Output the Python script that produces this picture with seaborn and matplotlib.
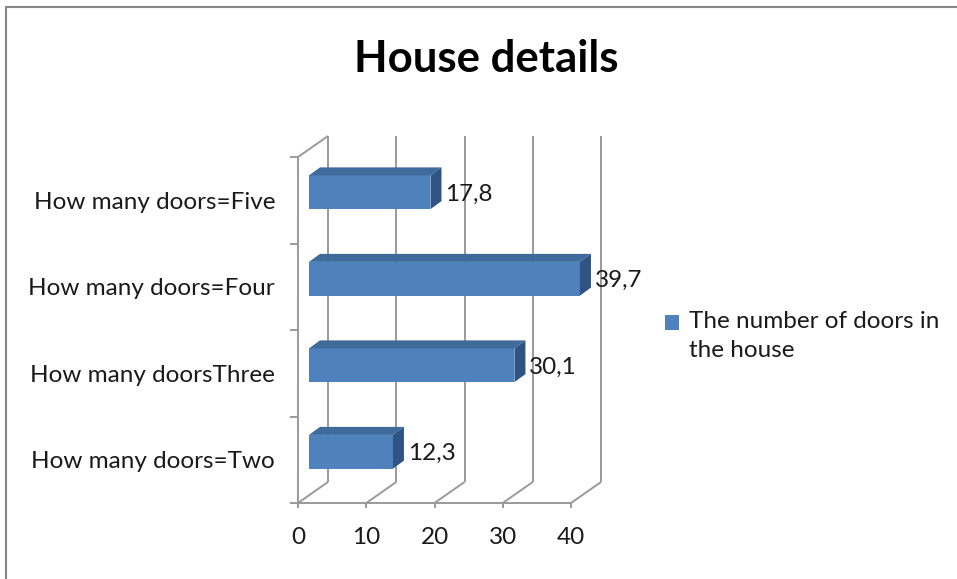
import matplotlib
matplotlib.use("Agg")
import matplotlib.pyplot as plt
from matplotlib.patches import Polygon, Patch, Rectangle
from matplotlib.legend_handler import HandlerPatch
import seaborn as sns
import pandas as pd

categories = ["How many doors=Five", "How many doors=Four", "How many doorsThree", "How many doors=Two"]
values = [17.8, 39.7, 30.1, 12.3]
xticks = [0, 10, 20, 30, 40]
series_name = "The number of doors in\nthe house"
title = "House details"

FRONT = "#4F81BD"
TOP = "#3F6A9C"
SIDE = "#2F5484"
GRID = "#9A9A9A"
FONT = "Lato"
FS = 17.5

W, H = 957, 579
fig = plt.figure(figsize=(W / 100, H / 100), dpi=100)
sns.set_style("white")
plt.rcParams["font.family"] = [FONT, "DejaVu Sans"]

# axes geometry in pixels (front plane)
L, R, B, T = 298, 571, 503, 157
ax = fig.add_axes([L / W, 1 - B / H, (R - L) / W, (B - T) / H])
ax.patch.set_alpha(0)

df = pd.DataFrame({"cat": categories, "val": values})
sns.barplot(data=df, x="val", y="cat", orient="h", color=FRONT, width=0.39,
            saturation=1, ax=ax, zorder=5)
ax.set_xlim(0, 40)
ax.set_ylim(3.5, -0.5)

pxx = (R - L) / 40.0
pxy = (B - T) / 4.0
BDX, BDY = 30 / pxx, -21 / pxy     # back wall offset
FDX, FDY = 11 / pxx, -8 / pxy      # bar front offset / bar depth

lkw = dict(color=GRID, lw=1.4, clip_on=False, zorder=1, solid_capstyle="butt")
# back wall gridlines and floor diagonals
for x in xticks:
    ax.plot([x + BDX, x + BDX], [3.5 + BDY, -0.5 + BDY], **lkw)
    ax.plot([x, x + BDX], [3.5, 3.5 + BDY], **lkw)
# left wall top edge
ax.plot([0, BDX], [-0.5, -0.5 + BDY], **lkw)

# bars: shift front faces, add top and side faces
for p, v in zip(ax.patches, values):
    p.set_x(p.get_x() + FDX)
    p.set_y(p.get_y() + FDY)
    p.set_edgecolor("none")
    p.set_clip_on(False)
    x0, x1 = p.get_x(), p.get_x() + p.get_width()
    yt, yb = p.get_y(), p.get_y() + p.get_height()
    top = Polygon([(x0, yt), (x1, yt), (x1 + FDX, yt + FDY), (x0 + FDX, yt + FDY)],
                  closed=True, facecolor=TOP, edgecolor="none", zorder=5, clip_on=False)
    side = Polygon([(x1, yt), (x1, yb), (x1 + FDX, yb + FDY), (x1 + FDX, yt + FDY)],
                   closed=True, facecolor=SIDE, edgecolor="none", zorder=5, clip_on=False)
    ax.add_patch(top)
    ax.add_patch(side)
    ax.text(x1 + FDX + 4 / pxx, (yt + yb) / 2 + 2 / pxy, f"{v:.1f}".replace(".", ","),
            ha="left", va="center", fontsize=FS, color="#1A1A1A", zorder=6)

# axes styling
for s in ["top", "right"]:
    ax.spines[s].set_visible(False)
for s in ["left", "bottom"]:
    ax.spines[s].set_color(GRID)
    ax.spines[s].set_linewidth(1.4)
ax.set_xticks(xticks)
ax.set_xticklabels([str(x) for x in xticks])
ax.set_yticks(range(len(categories)))
ax.set_yticklabels(categories)
ax.set_yticks([-0.5, 0.5, 1.5, 2.5, 3.5], minor=True)
ax.tick_params(axis="y", which="major", length=0, pad=23 * 0.72, labelsize=FS, labelcolor="#1A1A1A")
ax.tick_params(axis="y", which="minor", length=8 * 0.72, width=1.4, color=GRID, direction="out", left=True)
ax.tick_params(axis="x", which="major", length=5 * 0.72, width=1.4, color=GRID, direction="out",
               pad=19 * 0.72, labelsize=FS, labelcolor="#1A1A1A", bottom=True)
ax.set_xlabel("")
ax.set_ylabel("")
ax.grid(False)


# legend: square aligned with the first text line
def first_line_square(legend, orig_handle, xdescent, ydescent, width, height, fontsize):
    return Rectangle((-xdescent, -ydescent + 0.55 * fontsize), width, height)


handle = Patch(facecolor=FRONT, edgecolor="none", label=series_name)
leg = fig.legend(handles=[handle], loc="center left", bbox_to_anchor=(643 / W, 1 - 336 / H),
                 frameon=False, fontsize=FS, handlelength=0.6, handleheight=0.6,
                 handletextpad=0.4, labelspacing=0.2,
                 handler_map={Patch: HandlerPatch(patch_func=first_line_square)})
for t in leg.get_texts():
    t.set_linespacing(1.45)
    t.set_color("#1A1A1A")

# title
fig.text(486 / W, 1 - 59 / H, title, ha="center", va="center", fontsize=31.5, fontweight="bold",
         color="black")

# chart frame
fig.patches.append(Rectangle((6 / W, -0.1), 1.2, (1 - 7 / H) + 0.1, transform=fig.transFigure,
                             fill=False, edgecolor="#868686", lw=1.5, zorder=0))

fig.savefig("out.png", dpi=100)
